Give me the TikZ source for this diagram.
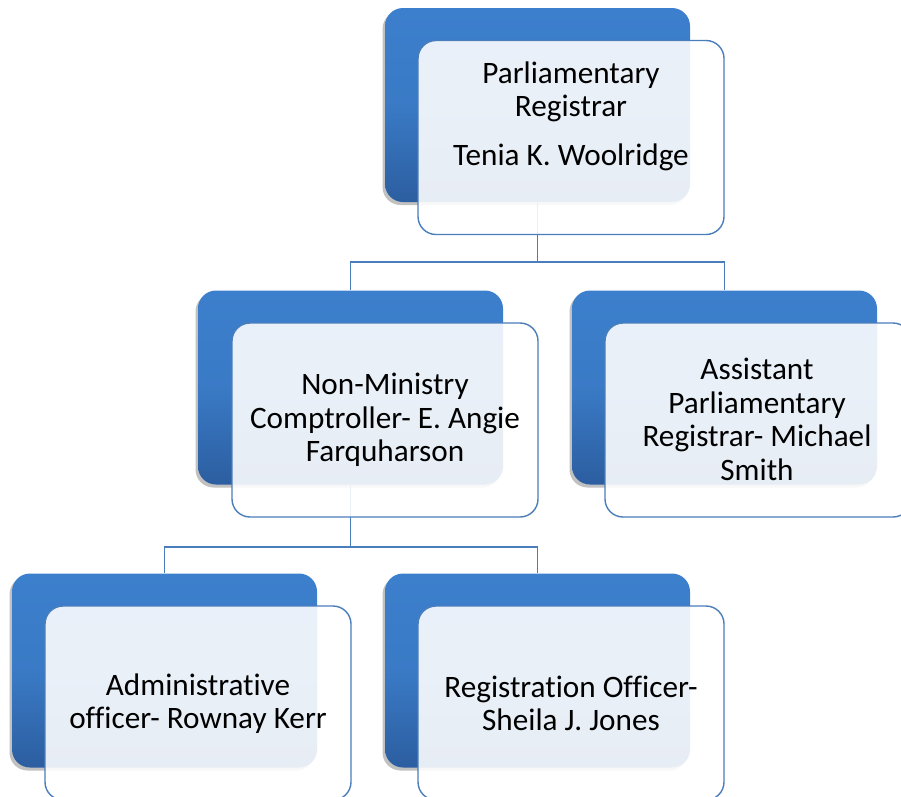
\documentclass[tikz,border=0pt]{standalone}
\usepackage{fontspec}
\setmainfont{Carlito}[Ligatures={NoCommon}]
\usetikzlibrary{shadows}
\definecolor{backtop}{RGB}{60,127,204}
\definecolor{backbot}{RGB}{44,94,160}
\definecolor{edgeblue}{RGB}{74,126,187}
\tikzset{
  backbox/.style={rounded corners=18pt, minimum width=305pt, minimum height=194pt,
    inner sep=0pt, top color=backtop, bottom color=backbot, middle color=backtop!85!backbot, draw=none,
    drop shadow={shadow xshift=-2.5pt, shadow yshift=-3pt, opacity=0.35, fill=black!70}},
  frontbox/.style={rounded corners=18pt, minimum width=306pt, minimum height=194pt,
    inner sep=0pt, draw=edgeblue, line width=1.4pt, fill=white, fill opacity=0.89},
  label/.style={align=center, font=\fontsize{31.2}{33.5}\selectfont, text=black, inner sep=0pt},
  link/.style={draw=edgeblue, line width=1.6pt}
}
\begin{document}
\begin{tikzpicture}[x=1pt,y=-1pt]
\useasboundingbox (0,0) rectangle (901,796);
% back boxes
\node[backbox] (Ab) at (537.5,105) {};
\node[backbox] (Bb) at (350.5,387.5) {};
\node[backbox] (Cb) at (724.5,387.5) {};
\node[backbox] (Db) at (164.5,670.5) {};
\node[backbox] (Eb) at (537.5,670.5) {};
% connectors
\draw[link] (Ab.south) -- ++(0,60) coordinate (Aj) -| (Bb.north);
\draw[link] (Aj) -| (Cb.north);
\draw[link] (Bb.south) -- ++(0,62) coordinate (Bj) -| (Db.north);
\draw[link] (Bj) -| (Eb.north);
% front boxes
\node[frontbox] (Af) at (571,137.5) {};
\node[frontbox] (Bf) at (385,420) {};
\node[frontbox] (Cf) at (758,420) {};
\node[frontbox] (Df) at (198,703) {};
\node[frontbox] (Ef) at (571,703) {};
% texts
\node[label] (At) at (571,116) {Parliamentary\\Registrar\\[15pt]Tenia K. Woolridge};
\node[label] (Bt) at (385,420) {Non-Ministry\\Comptroller- E. Angie\\Farquharson};
\node[label] (Ct) at (757,419.5) {Assistant\\Parliamentary\\Registrar- Michael\\Smith};
\node[label] (Dt) at (198,703.5) {Administrative\\officer- Rownay Kerr};
\node[label] (Et) at (571,703.5) {Registration Officer-\\Sheila J. Jones};
\end{tikzpicture}
\end{document}
